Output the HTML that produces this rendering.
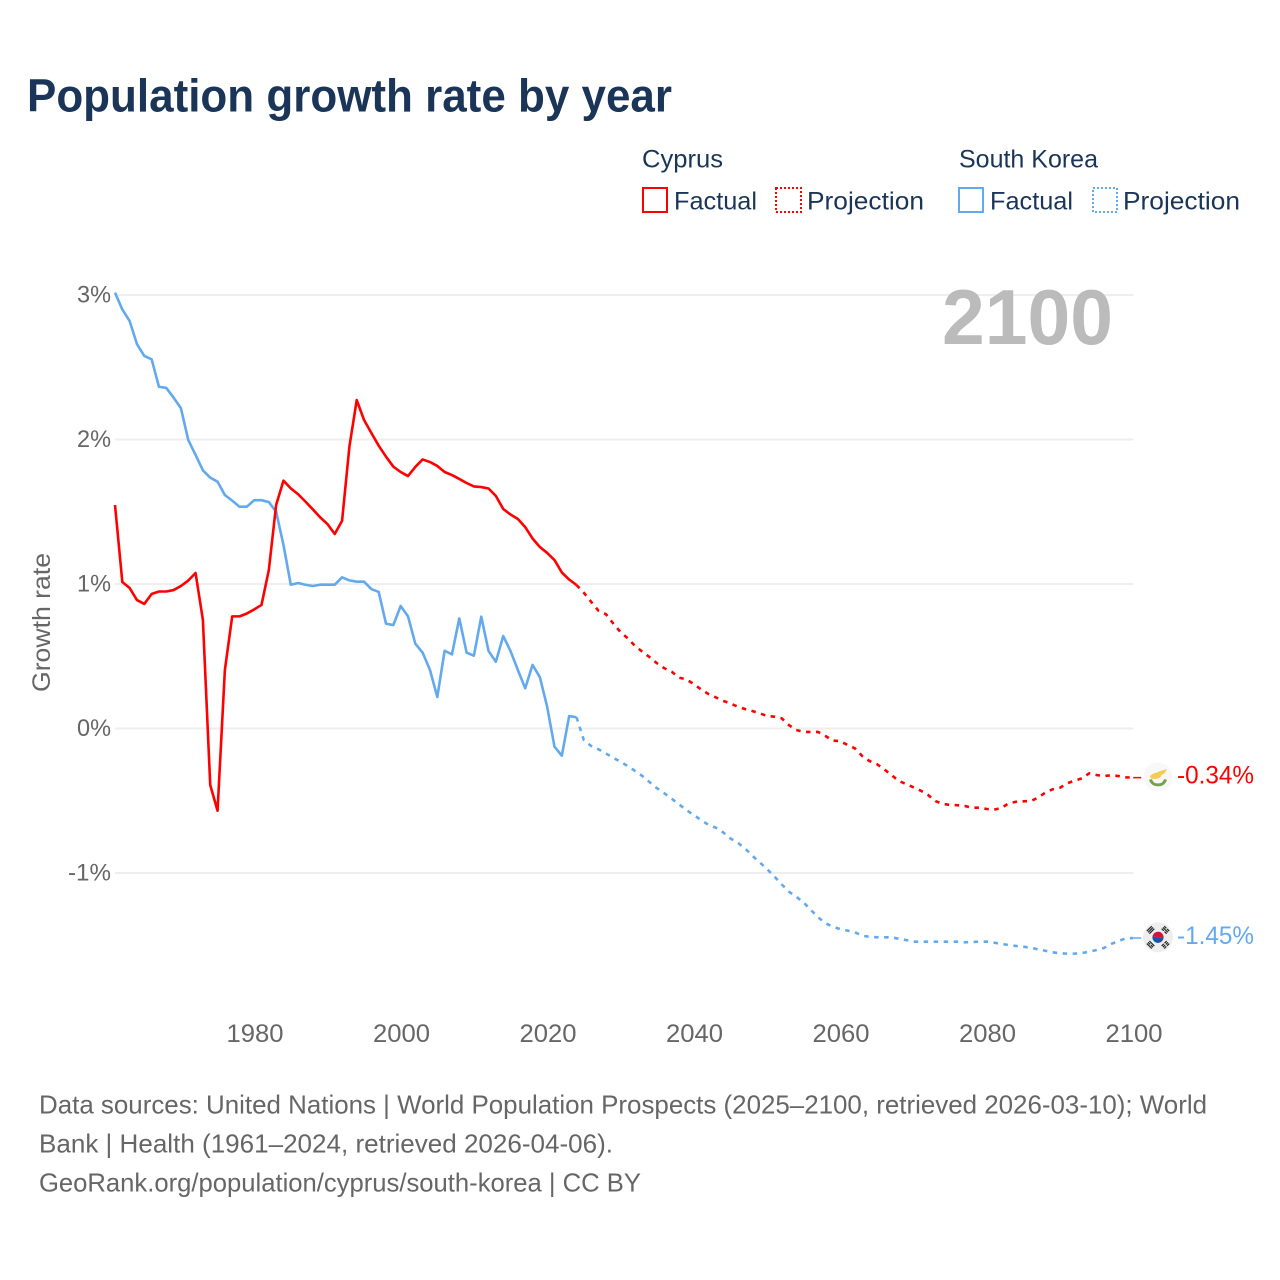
<!DOCTYPE html>
<html lang="en">
<head>
<meta charset="utf-8">
<title>Population growth rate by year</title>
<style>
html,body{margin:0;padding:0;background:#fff;}
svg{display:block;font-family:"Liberation Sans",sans-serif;}
</style>
</head>
<body>
<svg id="chart" width="1280" height="1280" viewBox="0 0 1280 1280" xmlns="http://www.w3.org/2000/svg">
  <rect x="0" y="0" width="1280" height="1280" fill="#ffffff"/>
  <text x="27" y="111.5" font-size="46" font-weight="700" fill="#1a3557" textLength="645" lengthAdjust="spacingAndGlyphs">Population growth rate by year</text>

  <g font-size="25" fill="#1a3557">
    <text x="642" y="167.5" textLength="81" lengthAdjust="spacingAndGlyphs">Cyprus</text>
    <text x="959" y="167.5" textLength="139" lengthAdjust="spacingAndGlyphs">South Korea</text>
    <rect x="643" y="188" width="24" height="24" fill="none" stroke="#ff0000" stroke-width="2"/>
    <text x="674" y="209.5" textLength="83" lengthAdjust="spacingAndGlyphs">Factual</text>
    <rect x="776" y="188" width="25" height="24" fill="none" stroke="#ff0000" stroke-width="2" stroke-dasharray="2 2"/>
    <text x="807" y="209.5" textLength="117" lengthAdjust="spacingAndGlyphs">Projection</text>
    <rect x="959" y="188" width="24" height="24" fill="none" stroke="#63a9ee" stroke-width="2"/>
    <text x="990" y="209.5" textLength="83" lengthAdjust="spacingAndGlyphs">Factual</text>
    <rect x="1093" y="188" width="24" height="24" fill="none" stroke="#63a9ee" stroke-width="2" stroke-dasharray="2 2"/>
    <text x="1123" y="209.5" textLength="117" lengthAdjust="spacingAndGlyphs">Projection</text>
  </g>

  <g id="grid"></g>
  <g id="yticks"></g>
  <g id="xticks"></g>

  <text transform="translate(50,692) rotate(-90)" x="0" y="0" font-size="25" fill="#666666" textLength="139" lengthAdjust="spacingAndGlyphs">Growth rate</text>

  <text x="942" y="344" font-size="78" font-weight="700" fill="#bbbbbb" textLength="171" lengthAdjust="spacingAndGlyphs">2100</text>

  <g id="series"></g>

  <g id="flag-cyprus">
    <circle cx="0" cy="0" r="14.5" fill="#f8f8f8"/>
    <path d="M-8,-0.5 C-6,-3.5 -3,-3.5 -1,-4.5 C2,-6 5,-6.5 8.5,-8 C8,-4.5 6,-2.5 3.5,-2 C3,1 0,2 -4,2 C-6,2 -7.5,1.5 -8,-0.5 Z" fill="#f4cc50"/>
    <path d="M-7.5,2.5 C-6.5,6.5 -3,8 0,8 C3,8 6.5,6.5 7.5,2.5" fill="none" stroke="#76a04a" stroke-width="3"/>
  </g>
  <g id="flag-korea">
    <circle cx="0" cy="0" r="15" fill="#eeeeee"/>
    <path d="M-5.6,0 A5.6,5.6 0 0 1 5.6,0 Z" fill="#d8123a" transform="rotate(10)"/>
    <path d="M-5.6,0 A5.6,5.6 0 0 0 5.6,0 Z" fill="#1a54a8" transform="rotate(10)"/>
    <g fill="#222222">
      <g transform="rotate(-45) translate(0,-10.5)"><rect x="-3.5" y="-2.4" width="7" height="1.2"/><rect x="-3.5" y="-0.6" width="7" height="1.2"/><rect x="-3.5" y="1.2" width="7" height="1.2"/></g>
      <g transform="rotate(45) translate(0,-10.5)"><rect x="-3.5" y="-2.4" width="3" height="1.2"/><rect x="0.5" y="-2.4" width="3" height="1.2"/><rect x="-3.5" y="-0.6" width="7" height="1.2"/><rect x="-3.5" y="1.2" width="3" height="1.2"/><rect x="0.5" y="1.2" width="3" height="1.2"/></g>
      <g transform="rotate(135) translate(0,-10.5)"><rect x="-3.5" y="-2.4" width="3" height="1.2"/><rect x="0.5" y="-2.4" width="3" height="1.2"/><rect x="-3.5" y="-0.6" width="3" height="1.2"/><rect x="0.5" y="-0.6" width="3" height="1.2"/><rect x="-3.5" y="1.2" width="3" height="1.2"/><rect x="0.5" y="1.2" width="3" height="1.2"/></g>
      <g transform="rotate(-135) translate(0,-10.5)"><rect x="-3.5" y="-2.4" width="7" height="1.2"/><rect x="-3.5" y="-0.6" width="3" height="1.2"/><rect x="0.5" y="-0.6" width="3" height="1.2"/><rect x="-3.5" y="1.2" width="7" height="1.2"/></g>
    </g>
  </g>

  <text id="value-cyprus" x="1177" y="784" font-size="25" fill="#ff0000" textLength="77" lengthAdjust="spacingAndGlyphs"></text>
  <text id="value-korea" x="1177" y="944" font-size="25" fill="#63a9ee" textLength="77" lengthAdjust="spacingAndGlyphs"></text>

  <g font-size="26" fill="#666666">
    <text x="39" y="1113.5" textLength="1168" lengthAdjust="spacingAndGlyphs">Data sources: United Nations | World Population Prospects (2025–2100, retrieved 2026-03-10); World</text>
    <text x="39" y="1152.5" textLength="574" lengthAdjust="spacingAndGlyphs">Bank | Health (1961–2024, retrieved 2026-04-06).</text>
    <text x="39" y="1191.5" textLength="602" lengthAdjust="spacingAndGlyphs">GeoRank.org/population/cyprus/south-korea | CC BY</text>
  </g>
</svg>

<script>
const yTickValues = [3, 2, 1, 0, -1];
const xTickYears = [1980, 2000, 2020, 2040, 2060, 2080, 2100];
const factualStartYear = 1961;
const projectionStartYear = 2024;

const cyprusFactual = [
  1.547,1.014,0.972,0.889,0.862,0.931,0.948,0.948,0.958,0.986,
  1.024,1.076,0.751,-0.391,-0.569,0.405,0.776,0.776,0.796,0.824,
  0.855,1.097,1.547,1.715,1.662,1.621,1.570,1.517,1.462,1.415,
  1.346,1.438,1.950,2.273,2.135,2.045,1.957,1.881,1.812,1.775,
  1.747,1.810,1.862,1.844,1.817,1.775,1.754,1.727,1.699,1.675,
  1.671,1.661,1.609,1.519,1.481,1.450,1.394,1.315,1.256,1.215,
  1.166,1.080,1.031,0.993
];
const cyprusProjection = [
  0.993,0.940,0.877,0.815,0.792,0.728,0.668,0.624,0.571,0.531,
  0.493,0.451,0.417,0.393,0.352,0.340,0.308,0.271,0.239,0.216,
  0.192,0.174,0.151,0.135,0.121,0.105,0.087,0.082,0.071,0.024,
  -0.010,-0.024,-0.024,-0.024,-0.052,-0.084,-0.087,-0.114,-0.137,-0.190,
  -0.225,-0.246,-0.282,-0.322,-0.363,-0.384,-0.407,-0.430,-0.460,-0.502,
  -0.522,-0.529,-0.531,-0.536,-0.548,-0.548,-0.557,-0.562,-0.550,-0.518,
  -0.507,-0.504,-0.502,-0.479,-0.444,-0.421,-0.410,-0.379,-0.361,-0.345,
  -0.310,-0.322,-0.329,-0.324,-0.329,-0.338,-0.340
];
const koreaFactual = [
  3.016,2.900,2.820,2.660,2.578,2.555,2.365,2.357,2.290,2.216,
  1.997,1.893,1.787,1.736,1.708,1.616,1.577,1.535,1.535,1.580,
  1.580,1.567,1.500,1.270,0.995,1.007,0.995,0.986,0.995,0.995,
  0.995,1.046,1.025,1.016,1.016,0.965,0.945,0.725,0.716,0.848,
  0.776,0.587,0.525,0.405,0.218,0.538,0.513,0.762,0.525,0.504,
  0.774,0.536,0.462,0.640,0.536,0.405,0.278,0.440,0.356,0.150,
  -0.126,-0.188,0.086,0.078
];
const koreaProjection = [
  0.078,-0.080,-0.121,-0.144,-0.172,-0.202,-0.230,-0.260,-0.294,-0.329,
  -0.372,-0.414,-0.448,-0.486,-0.525,-0.564,-0.599,-0.633,-0.666,-0.686,
  -0.718,-0.760,-0.790,-0.829,-0.880,-0.926,-0.972,-1.023,-1.078,-1.129,
  -1.164,-1.203,-1.256,-1.307,-1.348,-1.372,-1.388,-1.399,-1.410,-1.434,
  -1.441,-1.445,-1.445,-1.445,-1.455,-1.464,-1.475,-1.475,-1.475,-1.475,
  -1.475,-1.475,-1.475,-1.480,-1.478,-1.475,-1.475,-1.482,-1.491,-1.498,
  -1.505,-1.510,-1.517,-1.528,-1.538,-1.549,-1.556,-1.558,-1.558,-1.554,
  -1.545,-1.533,-1.519,-1.491,-1.471,-1.452,-1.450
];

const NS = 'http://www.w3.org/2000/svg';
const RED = '#ff0000';
const BLUE = '#63a9ee';
function xScale(year) { return 115 + (year - 1961) * 7.325; }
function yScale(value) { return 728.5 - value * 144.5; }
function formatTick(value) { return value + '%'; }

const gridGroup = document.getElementById('grid');
const yTickGroup = document.getElementById('yticks');
const xTickGroup = document.getElementById('xticks');
const seriesGroup = document.getElementById('series');

yTickValues.forEach(function (value) {
  const line = document.createElementNS(NS, 'line');
  
  
  line.setAttribute('x1', 115);
  line.setAttribute('x2', 1133.5);
  line.setAttribute('y1', yScale(value));
  line.setAttribute('y2', yScale(value));
  line.setAttribute('stroke', '#eeeeee');
  line.setAttribute('stroke-width', 2);
  gridGroup.appendChild(line);

  const label = document.createElementNS(NS, 'text');
  
  
  label.setAttribute('x', 111);
  label.setAttribute('y', yScale(value) + 7.5);
  label.setAttribute('text-anchor', 'end');
  label.setAttribute('font-size', 24.5);
  label.setAttribute('fill', '#666666');
  label.setAttribute('textLength', value < 0 ? 43 : 34);
  label.setAttribute('lengthAdjust', 'spacingAndGlyphs');
  label.textContent = formatTick(value);
  yTickGroup.appendChild(label);
});

xTickYears.forEach(function (year) {
  const label = document.createElementNS(NS, 'text');
  
  
  label.setAttribute('x', xScale(year) + 0.8);
  label.setAttribute('y', 1042);
  label.setAttribute('text-anchor', 'middle');
  label.setAttribute('font-size', 25);
  label.setAttribute('fill', '#666666');
  label.setAttribute('textLength', 57);
  label.setAttribute('lengthAdjust', 'spacingAndGlyphs');
  label.textContent = String(year);
  xTickGroup.appendChild(label);
});

function pathFrom(values, startYear) {
  return values.map(function (v, i) {
    return (i ? 'L' : 'M') + xScale(startYear + i).toFixed(2) + ',' + yScale(v).toFixed(2);
  }).join(' ');
}

function drawLine(name, values, startYear, color, dashed) {
  const path = document.createElementNS(NS, 'path');
  
  
  path.setAttribute('d', pathFrom(values, startYear));
  path.setAttribute('fill', 'none');
  path.setAttribute('stroke', color);
  path.setAttribute('stroke-width', 2.6);
  path.setAttribute('stroke-linejoin', 'round');
  if (dashed) path.setAttribute('stroke-dasharray', '4.5 5.5');
  seriesGroup.appendChild(path);
}

function drawEnd(name, values, color, flagId, labelId) {
  const last = values[values.length - 1];
  const y = yScale(last);
  const connector = document.createElementNS(NS, 'line');
  
  
  connector.setAttribute('x1', xScale(2100));
  connector.setAttribute('x2', xScale(2100) + 8);
  connector.setAttribute('y1', y);
  connector.setAttribute('y2', y);
  connector.setAttribute('stroke', color);
  connector.setAttribute('stroke-width', 1.5);
  seriesGroup.appendChild(connector);
  document.getElementById(flagId).setAttribute('transform', 'translate(1158,' + (y - 0.7).toFixed(2) + ')');
  const label = document.getElementById(labelId);
  label.setAttribute('y', (y + 6).toFixed(2));
  label.textContent = last.toFixed(2) + '%';
}

drawLine('line-south-korea-projection', koreaProjection, projectionStartYear, BLUE, true);
drawLine('line-south-korea-factual', koreaFactual, factualStartYear, BLUE, false);
drawLine('line-cyprus-projection', cyprusProjection, projectionStartYear, RED, true);
drawLine('line-cyprus-factual', cyprusFactual, factualStartYear, RED, false);
drawEnd('connector-cyprus', cyprusProjection, RED, 'flag-cyprus', 'value-cyprus');
drawEnd('connector-south-korea', koreaProjection, BLUE, 'flag-korea', 'value-korea');
</script>
</body>
</html>
